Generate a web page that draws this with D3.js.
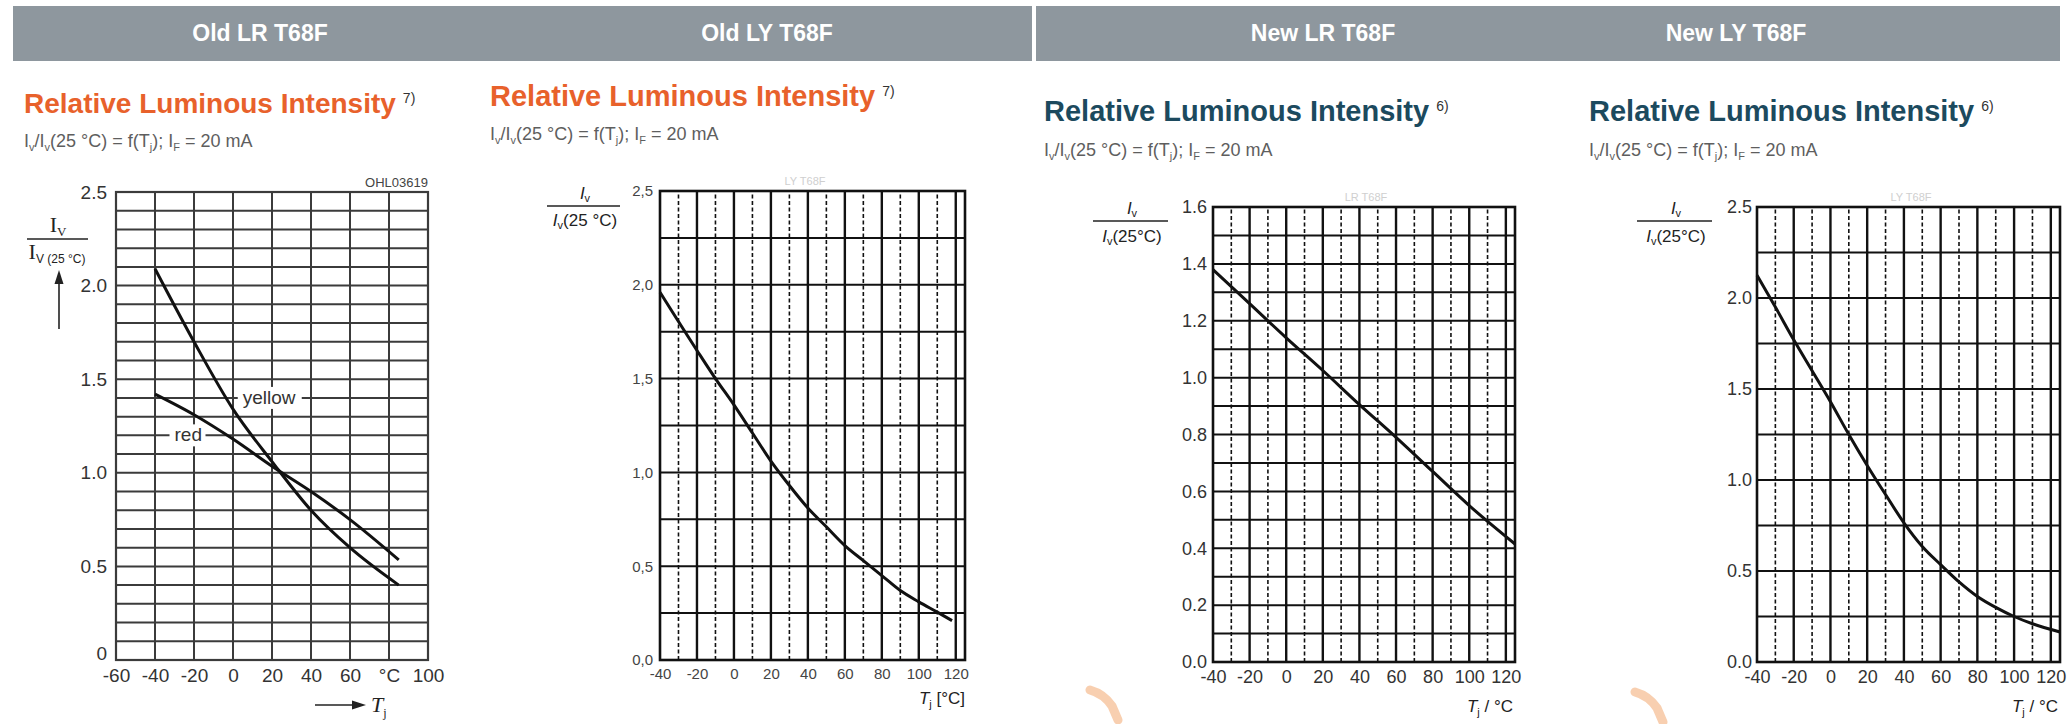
<!DOCTYPE html>
<html>
<head>
<meta charset="utf-8">
<script src="https://cdn.jsdelivr.net/npm/d3@7"></script>
<style>
  body { margin: 0; background: #fff; }
  svg { display: block; font-family: "Liberation Sans", Arial, sans-serif; }
</style>
</head>
<body>
<div id="chart"></div>
<script>
// ---- values ----
const headers = ["Old LR T68F", "Old LY T68F", "New LR T68F", "New LY T68F"];

const oldLrTemps = [-40, -20, 0, 20, 40, 60, 85];
const oldLrYellow = [2.09, 1.70, 1.34, 1.06, 0.80, 0.60, 0.40];
const oldLrRed = [1.42, 1.31, 1.18, 1.035, 0.90, 0.75, 0.535];

const oldLyTemps = [-40, -20, -10, 0, 10, 20, 30, 40, 50, 60, 70, 80, 90, 100, 110, 118];
const oldLyValues = [1.96, 1.65, 1.50, 1.36, 1.21, 1.06, 0.93, 0.81, 0.71, 0.61, 0.53, 0.45, 0.37, 0.31, 0.255, 0.21];

const newLrTemps = [-40, -20, 0, 20, 40, 60, 80, 100, 125];
const newLrValues = [1.38, 1.26, 1.14, 1.025, 0.905, 0.79, 0.67, 0.55, 0.415];

const newLyTemps = [-40, -30, -20, -10, 0, 10, 20, 30, 40, 50, 60, 70, 80, 90, 100, 110, 125];
const newLyValues = [2.125, 1.95, 1.77, 1.60, 1.43, 1.25, 1.08, 0.92, 0.765, 0.635, 0.535, 0.44, 0.36, 0.30, 0.25, 0.21, 0.165];

// tick labels
const oldLrXTicks = [-60, -40, -20, 0, 20, 40, 60, 80, 100];
const oldLrXLabels = ["-60", "-40", "-20", "0", "20", "40", "60", "°C", "100"];
const oldLrYTicks = [0, 0.5, 1, 1.5, 2, 2.5];
const oldLrYLabels = ["0", "0.5", "1.0", "1.5", "2.0", "2.5"];
const oldLyYLabels = ["0,0", "0,5", "1,0", "1,5", "2,0", "2,5"];
const newXTicks = [-40, -20, 0, 20, 40, 60, 80, 100, 120];
const newLrYTicks = [0, 0.2, 0.4, 0.6, 0.8, 1.0, 1.2, 1.4, 1.6];
const newLrYLabels = ["0.0", "0.2", "0.4", "0.6", "0.8", "1.0", "1.2", "1.4", "1.6"];
const newLyYTicks = [0, 0.5, 1, 1.5, 2, 2.5];
const newLyYLabels = ["0.0", "0.5", "1.0", "1.5", "2.0", "2.5"];

const W = 2067, H = 724;
const orange = "#e8612b", blue = "#1c4a5e";

const svg = d3.select("#chart").append("svg")
    .attr("width", W)
    .attr("height", H);

// header bars
svg.append("rect").attr("x", 13).attr("y", 6).attr("width", 1019).attr("height", 55).attr("fill", "#8e979e");
svg.append("rect").attr("x", 1036).attr("y", 6).attr("width", 1024).attr("height", 55).attr("fill", "#8e979e");
const headerX = [260, 767, 1323, 1736];
svg.selectAll("text.header")
    .data(headers)
    .enter()
    .append("text")
    .attr("class", "header")
    .attr("x", (d, i) => headerX[i])
    .attr("y", 41)
    .attr("text-anchor", "middle")
    .attr("fill", "#fff")
    .attr("font-weight", "bold")
    .attr("font-size", 23)
    .text(d => d);

// titles + subtitles
function title(x, y, size, color, note) {
    const t = svg.append("text").attr("x", x).attr("y", y)
        .attr("font-weight", "bold").attr("font-size", size).attr("fill", color);
    t.append("tspan").text("Relative Luminous Intensity");
    t.append("tspan").attr("dx", 7).attr("dy", -10).attr("font-size", 14)
        .attr("font-weight", "normal").attr("fill", "#333").text(note);
}
function subtitle(x, y) {
    const t = svg.append("text").attr("x", x).attr("y", y)
        .attr("font-size", 18).attr("fill", "#5e5e5e");
    const sub = (s) => t.append("tspan").attr("dy", 4).attr("font-size", 11).text(s);
    const back = (s) => t.append("tspan").attr("dy", -4).text(s);
    t.append("tspan").text("I");
    sub("v"); back("/I"); sub("v"); back("(25 °C) = f(T");
    sub("j"); back("); I"); sub("F"); back(" = 20 mA");
}
title(24, 113, 28, orange, "7)");
subtitle(24, 147);
title(490, 106, 29, orange, "7)");
subtitle(490, 140);
title(1044, 121, 29, blue, "6)");
subtitle(1044, 156);
title(1589, 121, 29, blue, "6)");
subtitle(1589, 156);

// ---- generic chart panel ----
function panel(cfg) {
    const g = svg.append("g");
    const x = d3.scaleLinear().domain(cfg.xDomain).range(cfg.xRange);
    const y = d3.scaleLinear().domain(cfg.yDomain).range(cfg.yRange);

    // horizontal grid
    g.selectAll("line.h").data(cfg.hLines).enter().append("line")
        .attr("x1", x(cfg.xDomain[0])).attr("x2", x(cfg.xDomain[1]))
        .attr("y1", d => y(d)).attr("y2", d => y(d))
        .attr("stroke", cfg.gridColor).attr("stroke-width", cfg.hWidth);
    // dashed verticals
    g.selectAll("line.vd").data(cfg.vDashed).enter().append("line")
        .attr("x1", d => x(d)).attr("x2", d => x(d))
        .attr("y1", y(cfg.yDomain[0])).attr("y2", y(cfg.yDomain[1]))
        .attr("stroke", cfg.gridColor).attr("stroke-width", 1.6)
        .attr("stroke-dasharray", "4,2.5");
    // solid verticals
    g.selectAll("line.vs").data(cfg.vSolid).enter().append("line")
        .attr("x1", d => x(d)).attr("x2", d => x(d))
        .attr("y1", y(cfg.yDomain[0])).attr("y2", y(cfg.yDomain[1]))
        .attr("stroke", cfg.gridColor).attr("stroke-width", cfg.vWidth);
    // frame
    g.append("rect")
        .attr("x", x(cfg.xDomain[0])).attr("y", y(cfg.yDomain[1]))
        .attr("width", x(cfg.xDomain[1]) - x(cfg.xDomain[0]))
        .attr("height", y(cfg.yDomain[0]) - y(cfg.yDomain[1]))
        .attr("fill", "none").attr("stroke", cfg.gridColor).attr("stroke-width", cfg.frameWidth);

    // curves
    const line = d3.line().x(d => x(d[0])).y(d => y(d[1])).curve(d3.curveMonotoneX);
    cfg.series.forEach(s => {
        g.append("path").datum(d3.zip(s.temps, s.values))
            .attr("d", line)
            .attr("fill", "none").attr("stroke", "#111")
            .attr("stroke-width", 3).attr("stroke-linejoin", "round");
    });

    // axes
    const xAxis = d3.axisBottom(x).tickValues(cfg.xTicks)
        .tickFormat((d, i) => cfg.xLabels[i]).tickSize(0).tickPadding(cfg.xPad);
    const yAxis = d3.axisLeft(y).tickValues(cfg.yTicks)
        .tickFormat((d, i) => cfg.yLabels[i]).tickSize(0).tickPadding(cfg.yPad);
    const gx = g.append("g").attr("transform", `translate(0,${y(cfg.yDomain[0])})`).call(xAxis);
    const gy = g.append("g").attr("transform", `translate(${x(cfg.xDomain[0])},0)`).call(yAxis);
    [gx, gy].forEach(a => {
        a.select(".domain").remove();
        a.selectAll("text").attr("font-size", cfg.fontSize).attr("fill", cfg.labelColor)
            .attr("font-family", "'Liberation Sans', Arial, sans-serif");
    });
    return { g, x, y, gx, gy };
}

// ---- Old LR T68F ----
const p1 = panel({
    xDomain: [-60, 100], xRange: [116, 428],
    yDomain: [0, 2.5], yRange: [660, 192],
    hLines: d3.range(1, 25).map(i => i / 10),
    vSolid: [-40, -20, 0, 20, 40, 60, 80], vDashed: [],
    gridColor: "#3b3b3b", hWidth: 2, vWidth: 2, frameWidth: 2.2,
    series: [{ temps: oldLrTemps, values: oldLrYellow }, { temps: oldLrTemps, values: oldLrRed }],
    xTicks: oldLrXTicks, xLabels: oldLrXLabels, yTicks: oldLrYTicks, yLabels: oldLrYLabels,
    xPad: 9, yPad: 9, fontSize: 19, labelColor: "#333"
});
// lift the bottom "0" so it clears the "-60" below it
p1.gy.selectAll(".tick").filter(d => d === 0).select("text").attr("dy", "-0.05em");
// curve names with white backing
[["yellow", 5, 1.4, 64], ["red", -30, 1.2, 36]].forEach(([name, t, v, w]) => {
    p1.g.append("rect").attr("x", p1.x(t) - 5).attr("y", p1.y(v) - 11)
        .attr("width", w).attr("height", 22).attr("fill", "#fff");
    p1.g.append("text").attr("x", p1.x(t)).attr("y", p1.y(v) + 6)
        .attr("font-size", 19).attr("fill", "#333").text(name);
});
svg.append("text").attr("x", 428).attr("y", 187).attr("text-anchor", "end")
    .attr("font-size", 13).attr("fill", "#444").text("OHL03619");
// serif y label with fraction and arrow
const serif = "'Liberation Serif', 'Times New Roman', serif";
const n1 = svg.append("text").attr("x", 58).attr("y", 232).attr("text-anchor", "middle")
    .attr("font-family", serif).attr("font-size", 22).attr("fill", "#222");
n1.append("tspan").text("I");
n1.append("tspan").attr("dy", 4).attr("font-size", 13).text("V");
svg.append("line").attr("x1", 27).attr("x2", 88).attr("y1", 239).attr("y2", 239)
    .attr("stroke", "#222").attr("stroke-width", 1.5);
const d1 = svg.append("text").attr("x", 57).attr("y", 259).attr("text-anchor", "middle")
    .attr("font-family", serif).attr("font-size", 22).attr("fill", "#222");
d1.append("tspan").text("I");
d1.append("tspan").attr("dy", 4).attr("font-size", 12).attr("font-family", "'Liberation Sans', Arial")
    .text("V (25 °C)");
svg.append("line").attr("x1", 59).attr("x2", 59).attr("y1", 329).attr("y2", 280)
    .attr("stroke", "#222").attr("stroke-width", 1.6);
svg.append("path").attr("d", "M59,270 L54.5,284 L63.5,284 Z").attr("fill", "#222");
// x title with arrow
svg.append("line").attr("x1", 315).attr("x2", 355).attr("y1", 705).attr("y2", 705)
    .attr("stroke", "#222").attr("stroke-width", 1.6);
svg.append("path").attr("d", "M366,705 L352,700.5 L352,709.5 Z").attr("fill", "#222");
const t1 = svg.append("text").attr("x", 371).attr("y", 712).attr("font-family", serif)
    .attr("font-style", "italic").attr("font-size", 22).attr("fill", "#222");
t1.append("tspan").text("T");
t1.append("tspan").attr("dy", 5).attr("font-size", 12).attr("font-style", "normal").text("j");

// ---- the three newer-style panels ----
function yFraction(cx, yNum, yLine, x1, x2, yDen, spaced) {
    const n = svg.append("text").attr("x", cx).attr("y", yNum).attr("text-anchor", "middle")
        .attr("font-size", 17).attr("fill", "#222");
    n.append("tspan").attr("font-style", "italic").text("I");
    n.append("tspan").attr("dy", 3).attr("font-size", 11).text("v");
    svg.append("line").attr("x1", x1).attr("x2", x2).attr("y1", yLine).attr("y2", yLine)
        .attr("stroke", "#222").attr("stroke-width", 1.4);
    const d = svg.append("text").attr("x", cx).attr("y", yDen).attr("text-anchor", "middle")
        .attr("font-size", 17).attr("fill", "#222");
    d.append("tspan").attr("font-style", "italic").text("I");
    d.append("tspan").attr("dy", 3).attr("font-size", 11).text("v");
    d.append("tspan").attr("dy", -3).text(spaced ? "(25 °C)" : "(25°C)");
}
function xTitle(xr, yb, suffix) {
    const t = svg.append("text").attr("x", xr).attr("y", yb).attr("text-anchor", "end")
        .attr("font-size", 17).attr("fill", "#222");
    t.append("tspan").attr("font-style", "italic").text("T");
    t.append("tspan").attr("dy", 4).attr("font-size", 11).text("j");
    t.append("tspan").attr("dy", -4).text(suffix);
}
function faint(cx, yb, s) {
    svg.append("text").attr("x", cx).attr("y", yb).attr("text-anchor", "middle")
        .attr("font-size", 11).attr("fill", "#cfcfcf").text(s);
}
const solid20 = [-20, 0, 20, 40, 60, 80, 100, 120];
const dashed10 = [-30, -10, 10, 30, 50, 70, 90, 110];

// Old LY T68F
panel({
    xDomain: [-40, 125], xRange: [660, 965],
    yDomain: [0, 2.5], yRange: [660, 191],
    hLines: d3.range(1, 10).map(i => i * 0.25),
    vSolid: solid20, vDashed: dashed10,
    gridColor: "#111", hWidth: 2, vWidth: 2.4, frameWidth: 2.6,
    series: [{ temps: oldLyTemps, values: oldLyValues }],
    xTicks: newXTicks, xLabels: newXTicks.map(String), yTicks: oldLrYTicks, yLabels: oldLyYLabels,
    xPad: 8, yPad: 7, fontSize: 15, labelColor: "#444"
});
yFraction(585, 199, 206, 547, 620, 226, true);
xTitle(965, 704, " [°C]");
faint(805, 185, "LY T68F");

// New LR T68F
panel({
    xDomain: [-40, 125], xRange: [1213, 1515],
    yDomain: [0, 1.6], yRange: [662, 207],
    hLines: d3.range(1, 16).map(i => i / 10),
    vSolid: solid20, vDashed: dashed10,
    gridColor: "#111", hWidth: 2, vWidth: 2.4, frameWidth: 2.6,
    series: [{ temps: newLrTemps, values: newLrValues }],
    xTicks: newXTicks, xLabels: newXTicks.map(String), yTicks: newLrYTicks, yLabels: newLrYLabels,
    xPad: 8, yPad: 6, fontSize: 18, labelColor: "#333"
});
yFraction(1132, 214, 221, 1093, 1168, 242, false);
xTitle(1513, 712, " / °C");
faint(1366, 201, "LR T68F");

// New LY T68F
panel({
    xDomain: [-40, 125], xRange: [1757, 2060],
    yDomain: [0, 2.5], yRange: [662, 207],
    hLines: d3.range(1, 10).map(i => i * 0.25),
    vSolid: solid20, vDashed: dashed10,
    gridColor: "#111", hWidth: 2, vWidth: 2.4, frameWidth: 2.6,
    series: [{ temps: newLyTemps, values: newLyValues }],
    xTicks: newXTicks, xLabels: newXTicks.map(String), yTicks: newLyYTicks, yLabels: newLyYLabels,
    xPad: 8, yPad: 5, fontSize: 18, labelColor: "#333"
});
yFraction(1676, 214, 221, 1637, 1712, 242, false);
xTitle(2058, 712, " / °C");
faint(1911, 201, "LY T68F");

// faint orange watermark fragments at the bottom
[[1090, 690], [1635, 692]].forEach(([wx, wy]) => {
    svg.append("path")
        .attr("d", `M${wx},${wy} q14,4 22,16 l6,14`)
        .attr("fill", "none").attr("stroke", "#f6c39c")
        .attr("stroke-width", 9).attr("stroke-linecap", "round").attr("opacity", 0.8);
});
</script>
</body>
</html>
